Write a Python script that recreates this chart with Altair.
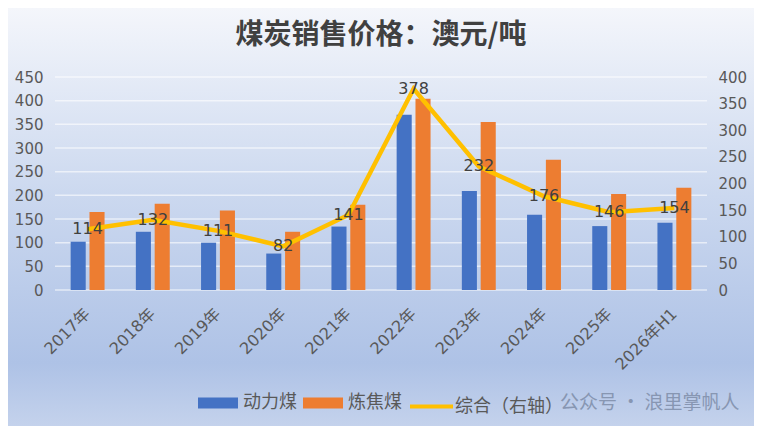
import pandas as pd
import altair as alt

# ---- data ----
years = ["2017年", "2018年", "2019年", "2020年", "2021年",
         "2022年", "2023年", "2024年", "2025年", "2026年H1"]
thermal = [102, 123, 100, 77, 134, 370, 209, 159, 135, 142]      # 动力煤
coking = [165, 182, 168, 123, 180, 404, 355, 275, 203, 216]      # 炼焦煤
combined = [114, 132, 111, 82, 141, 378, 232, 176, 146, 154]     # 综合（右轴）

left_ticks = list(range(0, 451, 50))
right_ticks = list(range(0, 401, 50))

bar_names = ["动力煤", "炼焦煤"]
bar_colors = ["#4472C4", "#ED7D31"]
line_name = "综合（右轴）"
line_color = "#FFC000"

CJK = "Noto Sans CJK SC"
NUM = "DejaVu Sans, Noto Sans CJK SC"
W, H = 652, 213
PAD = {"left": 47, "top": 69, "right": 47, "bottom": 136}

bars_df = pd.DataFrame({
    "year": years * 2,
    "series": [bar_names[0]] * len(years) + [bar_names[1]] * len(years),
    "value": thermal + coking,
})
line_df = pd.DataFrame({"year": years, "combined": combined,
                        "name": [line_name] * len(years)})
grid_df = pd.DataFrame({"value": left_ticks})

legend_common = dict(
    orient="none", direction="horizontal", legendY=306, padding=0,
    labelFontSize=18, labelColor="#595959", labelFont=CJK, columnPadding=6,
)

# ---- background gradient over the whole canvas ----
bg = alt.Chart(pd.DataFrame({"k": [0]})).mark_rect(
    fill=alt.Gradient(
        gradient="linear", x1=0, x2=0, y1=0, y2=1,
        stops=[
            alt.GradientStop(offset=0, color="#f4f6fb"),
            alt.GradientStop(offset=0.45, color="#cbd8ef"),
            alt.GradientStop(offset=0.85, color="#aec2e6"),
            alt.GradientStop(offset=1, color="#c4d2ec"),
        ],
    )
).encode(
    x=alt.value(-PAD["left"]), x2=alt.value(W + PAD["right"]),
    y=alt.value(-PAD["top"]), y2=alt.value(H + PAD["bottom"]),
)

y_left = alt.Y(
    "value:Q", title=None, scale=alt.Scale(domain=[0, 450]),
    axis=alt.Axis(values=left_ticks, grid=False, domain=False, ticks=False,
                  labelFont=NUM, labelFontSize=15, labelColor="#595959",
                  labelPadding=12, zindex=1),
)

# horizontal gridlines, drawn under the bars
grid = alt.Chart(grid_df).mark_rule(
    color="#ffffff", opacity=0.6, strokeWidth=1.5
).encode(y=y_left)

bars = alt.Chart(bars_df).mark_bar().encode(
    x=alt.X(
        "year:N", sort=years, title=None,
        scale=alt.Scale(paddingInner=0.48, paddingOuter=0.24),
        axis=alt.Axis(labelAngle=-45, labelAlign="right",
                      labelBaseline="middle", labelFont=NUM, labelFontSize=16,
                      labelColor="#595959", labelPadding=21, ticks=False,
                      domain=False, zindex=1),
    ),
    xOffset=alt.XOffset("series:N", sort=bar_names,
                        scale=alt.Scale(paddingInner=0.2, paddingOuter=0)),
    y=y_left,
    color=alt.Color(
        "series:N", title=None,
        scale=alt.Scale(domain=bar_names, range=bar_colors),
        legend=alt.Legend(legendX=143, symbolType="M-1,-0.28H1V0.28H-1Z",
                          symbolSize=1600, symbolStrokeWidth=0, labelOffset=5,
                          **legend_common),
    ),
)

y_right = alt.Y("combined:Q", title=None,
                scale=alt.Scale(domain=[0, 400]),
                axis=alt.Axis(orient="right", values=right_ticks,
                              grid=False, domain=False, ticks=False,
                              labelFont=NUM, labelFontSize=15,
                              labelColor="#595959", labelPadding=11,
                              zindex=1))

line = alt.Chart(line_df).mark_line(strokeWidth=4.5).encode(
    x=alt.X("year:N", sort=years), y=y_right,
    stroke=alt.Stroke(
        "name:N", title=None,
        scale=alt.Scale(domain=[line_name], range=[line_color]),
        legend=alt.Legend(legendX=353, symbolType="stroke", symbolSize=1849,
                          symbolStrokeWidth=4, labelOffset=0,
                          **legend_common),
    ),
)
labels = alt.Chart(line_df).mark_text(
    fontSize=16, color="#404040", font=NUM, baseline="middle"
).encode(
    x=alt.X("year:N", sort=years), y=y_right, text="combined:Q",
)

watermark = alt.Chart(pd.DataFrame({"k": [0]})).mark_text(
    text="公众号 · 浪里掌帆人", fontSize=19, color="#8796b2", font=CJK,
    align="left", baseline="middle",
).encode(x=alt.value(505), y=alt.value(326))

chart = (
    alt.layer(bg, alt.layer(grid, bars), alt.layer(line, labels), watermark)
    .resolve_scale(y="independent")
    .properties(
        width=W, height=H, padding=PAD,
        autosize=alt.AutoSizeParams(type="none"),
        title=alt.Title("煤炭销售价格：澳元/吨", fontSize=28, fontWeight="bold",
                        font=CJK, color="#404040", frame="group",
                        anchor="middle", baseline="middle", offset=0, dy=56),
    )
    .configure(font=CJK, background="#ffffff")
    .configure_view(strokeWidth=0)
)

chart.save("out.html", embed_options={"renderer": "svg", "actions": False})
